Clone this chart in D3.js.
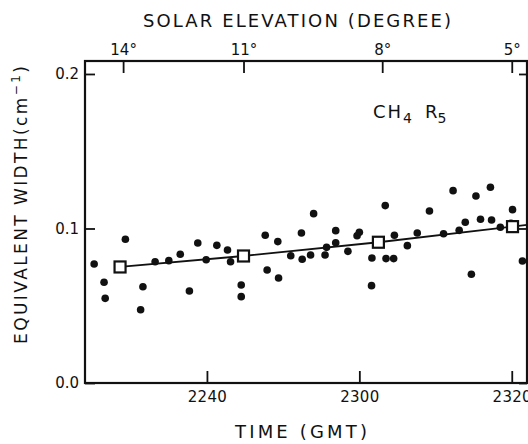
<!DOCTYPE html>
<html>
<head>
<meta charset="utf-8">
<script src="https://cdn.jsdelivr.net/npm/d3@7"></script>
<style>
  html, body { margin: 0; padding: 0; background: #fff; }
  svg { display: block; }
  text { font-family: "DejaVu Sans", sans-serif; fill: #111; }
</style>
</head>
<body>
<svg id="chart" width="528" height="444"></svg>
<script>
// ---- data (time in minutes after 22:00 GMT) ----
const dotTimes = [25.2, 26.5, 26.65, 29.3, 31.6, 31.3, 33.2, 35.0, 36.5, 37.7, 38.8, 39.9, 41.3, 42.7, 43.1,
  44.5, 44.5, 47.65, 47.9, 49.3, 49.4, 51.0, 52.4, 52.5, 53.6, 54.0, 55.5, 55.7, 56.9, 56.9, 58.5, 59.7, 60.0,
  61.65, 61.6, 63.4, 64.6, 63.5, 64.5, 66.3, 67.6, 69.2, 71.05, 72.3, 73.1, 73.9, 74.7, 75.3, 75.9, 77.2,
  77.35, 78.5, 80.1, 79.9, 80.4, 81.4];
const dotValues = [0.0770, 0.0652, 0.0548, 0.0930, 0.0623, 0.0474, 0.0785, 0.0792, 0.0833, 0.0595, 0.0906,
  0.0798, 0.0891, 0.0861, 0.0785, 0.0634, 0.0559, 0.0956, 0.0731, 0.0915, 0.0680, 0.0824, 0.0971, 0.0801,
  0.0828, 0.1096, 0.0828, 0.0878, 0.0986, 0.0908, 0.0852, 0.0953, 0.0975, 0.0809, 0.0630, 0.1148, 0.0956,
  0.0805, 0.0805, 0.0889, 0.0971, 0.1113, 0.0966, 0.1245, 0.0988, 0.1040, 0.0704, 0.1210, 0.1060, 0.1267,
  0.1055, 0.1008, 0.1122, 0.1034, 0.1029, 0.0790];

const meanTimes = [28.6, 44.8, 62.5, 80.1];
const meanValues = [0.0751, 0.0822, 0.0911, 0.1012];
const lineTimes = [28.6, 44.8, 62.5, 80.1, 82.0];
const lineValues = [0.0751, 0.0822, 0.0911, 0.1012, 0.1023];

const timeTickMinutes = [40, 60, 80];
const timeTickLabels = ["2240", "2300", "2320"];
const elevTickMinutes = [29, 44.8, 63, 80];
const elevTickLabels = ["14°", "11°", "8°", "5°"];
const yTickValues = [0.0, 0.1, 0.2];
const yTickLabels = ["0.0", "0.1", "0.2"];

// ---- layout ----
const L = 85, R = 527, T = 61, B = 383;
const svg = d3.select("#chart");
const x = d3.scaleLinear().domain([24, 82]).range([L, R]);
const y = d3.scaleLinear().domain([0, 0.2084]).range([B, T]);

svg.append("defs").append("clipPath").attr("id", "clip")
  .append("rect").attr("x", L).attr("y", T).attr("width", R - L).attr("height", B - T);

svg.append("rect").attr("x", L).attr("y", T).attr("width", R - L).attr("height", B - T)
  .attr("fill", "none").attr("stroke", "#111").attr("stroke-width", 2.2);

const gBottom = svg.append("g").attr("transform", `translate(0,${B})`)
  .call(d3.axisBottom(x).tickValues(timeTickMinutes)
    .tickFormat((d, i) => timeTickLabels[i]).tickSize(-12).tickPadding(8));
const gTop = svg.append("g").attr("transform", `translate(0,${T})`)
  .call(d3.axisTop(x).tickValues(elevTickMinutes)
    .tickFormat((d, i) => elevTickLabels[i]).tickSize(-12).tickPadding(6));
const gLeft = svg.append("g").attr("transform", `translate(${L},0)`)
  .call(d3.axisLeft(y).tickValues(yTickValues)
    .tickFormat((d, i) => yTickLabels[i]).tickSize(-10).tickPadding(6));
const gRight = svg.append("g").attr("transform", `translate(${R},0)`)
  .call(d3.axisRight(y).tickValues(yTickValues).tickFormat("").tickSize(-8));

[gBottom, gTop, gLeft, gRight].forEach(g => {
  g.select(".domain").remove();
  g.selectAll(".tick line").attr("stroke", "#111").attr("stroke-width", 1.8);
  g.selectAll(".tick text").attr("fill", "#111").style("font-family", "\"DejaVu Sans\", sans-serif");
});
gBottom.selectAll(".tick text").style("font-size", "15px").attr("letter-spacing", "0.3px");
gTop.selectAll(".tick text").style("font-size", "15px");
gLeft.selectAll(".tick text").style("font-size", "15px");

const plot = svg.append("g").attr("clip-path", "url(#clip)");

plot.append("g").selectAll("circle").data(dotTimes).join("circle")
  .attr("cx", (d) => x(d))
  .attr("cy", (d, i) => y(dotValues[i]))
  .attr("r", 3.8).attr("fill", "#111");

plot.append("path")
  .datum(lineTimes.map((t, i) => [t, lineValues[i]]))
  .attr("d", d3.line().x(d => x(d[0])).y(d => y(d[1])))
  .attr("fill", "none").attr("stroke", "#111").attr("stroke-width", 1.8);

plot.append("g").selectAll("rect").data(meanTimes).join("rect")
  .attr("x", d => x(d) - 5.5)
  .attr("y", (d, i) => y(meanValues[i]) - 5.5)
  .attr("width", 11).attr("height", 11)
  .attr("fill", "#fff").attr("stroke", "#111").attr("stroke-width", 2.2);

svg.append("text").attr("x", 297).attr("y", 27).attr("text-anchor", "middle")
  .style("font-size", "18px").attr("textLength", 308).attr("lengthAdjust", "spacing")
  .text("SOLAR ELEVATION (DEGREE)");

svg.append("text").attr("x", 301).attr("y", 438).attr("text-anchor", "middle")
  .style("font-size", "18px").attr("textLength", 132).attr("lengthAdjust", "spacing")
  .text("TIME (GMT)");

const yl = svg.append("text")
  .attr("transform", "translate(27,205) rotate(-90)")
  .attr("text-anchor", "middle")
  .style("font-size", "17px").attr("textLength", 278).attr("lengthAdjust", "spacing");
yl.append("tspan").text("EQUIVALENT WIDTH(cm");
yl.append("tspan").attr("dy", -7).style("font-size", "12px").text("−1");
yl.append("tspan").attr("dy", 7).text(")");

const ann = svg.append("text").attr("x", 373).attr("y", 118).style("font-size", "18px");
ann.append("tspan").text("CH").attr("letter-spacing", "2px");
ann.append("tspan").attr("dy", 5).style("font-size", "14px").text("4");
ann.append("tspan").attr("dy", -5).attr("dx", 13).text("R");
ann.append("tspan").attr("dy", 5).style("font-size", "14px").text("5");
</script>
</body>
</html>
